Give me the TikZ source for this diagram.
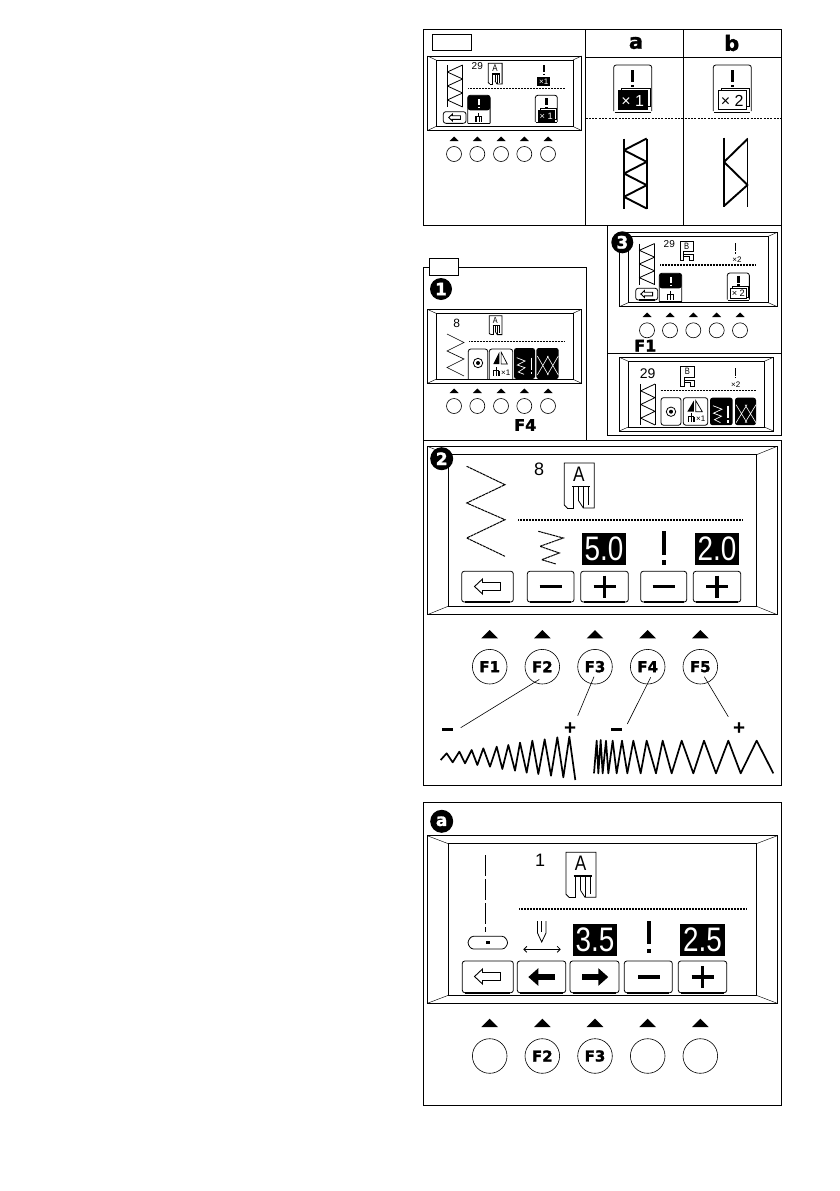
\documentclass[tikz,border=0pt]{standalone}
\usepackage{fontspec}
\setmainfont{Liberation Sans}
\newfontfamily\heavyfont[BoldFont=* Bold, BoldFeatures={FakeBold=1.6}]{DejaVu Sans}
\usetikzlibrary{arrows.meta,calc}

\newcommand{\lcdfont}[1]{\fontsize{#1}{#1}\selectfont}
\newcommand{\narrow}[1]{\scalebox{.82}[1]{#1}}

% screen: outer corners, then inset of the inner rectangle
\newcommand{\lcdframe}[6]{
    \draw[panel] (#1,#2) rectangle (#3,#4);
    \draw[panel] (#1+#5,#2+#6) rectangle (#3-#5,#4-#6);
    \draw[hair] (#1,#2) -- (#1+#5,#2+#6);
    \draw[hair] (#3,#2) -- (#3-#5,#2+#6);
    \draw[hair] (#1,#4) -- (#1+#5,#4-#6);
    \draw[hair] (#3,#4) -- (#3-#5,#4-#6);
}
% triangle and circle under a screen
\newcommand{\keyrow}[6]{
    \foreach \kx/\ktext [count=\ki] in {#2} {
        \fill (\kx-#6,#3) -- (\kx+#6,#3) -- (\kx,#3-#6) -- cycle;
        \node[keycircle, minimum size=2*#5] (#1\ki) at (\kx,#4) {\ktext};
    }
}
\newcommand{\softkey}[4]{
    \draw[softedge] (#1,#4) -- (#1,#2) -- (#3,#2) -- (#3,#4) -- cycle;
    \draw[line width=1.6pt] (#1+3,#4) -- (#3-3,#4);
}
\newcommand{\backarrow}[3]{
    \begin{scope}[shift={(#1,#2)},scale=#3]
        \draw[line width=.9pt] (-13,0) -- (-5,-7.5) -- (-5,-4) -- (13,-4) -- (13,4) -- (-5,4) -- (-5,7.5) -- cycle;
    \end{scope}
}
\newcommand{\minussign}[2]{\draw[line width=3.2pt] (#1-11,#2) -- (#1+11,#2);}
\newcommand{\plussign}[2]{\draw[line width=3.2pt] (#1-11,#2) -- (#1+11,#2) (#1,#2-11) -- (#1,#2+11);}
% stitch length mark: bar and dot
\newcommand{\stitchmark}[5][black]{
    \draw[#1, line width=#5] (#2,#3) -- (#2,#3+#4*0.72);
    \draw[#1, line width=#5] (#2,#3+#4*0.87) -- (#2,#3+#4);
}
% presser foot
\newcommand{\footA}[3]{
    \begin{scope}[shift={(#1,#2)},scale=#3,transform shape]
        \draw[line width=.8pt] (3,45) -- (0,42) -- (0,0) -- (30,0) -- (30,45) -- (19,45) -- (14.5,38);
        \draw[line width=.8pt] (3,45) -- (9.5,45) -- (9.5,23.5);
        \draw[line width=.8pt] (14.5,23.5) -- (14.5,38) (19.5,23.5) -- (19.5,45) (24.5,23.5) -- (24.5,42);
        \draw[line width=1.6pt] (7.7,23.5) -- (26,23.5);
        \node[inner sep=0, font=\lcdfont{21}] (footletter) at (14.5,11) {\narrow{A}};
    \end{scope}
}
\newcommand{\footB}[3]{
    \begin{scope}[shift={(#1,#2)},scale=#3,transform shape]
        \draw[line width=.7pt] (0,45) -- (0,0) -- (30,0) -- (30,24) -- (8,24) -- (8,45) -- cycle;
        \draw[line width=.7pt] (8,30) -- (30,30) -- (30,45) -- (22,45) -- (22,36) -- (8,36);
        \node[inner sep=0, font=\lcdfont{21}] (footletter) at (15,11) {\narrow{B}};
    \end{scope}
}
% triple stitch between two rails
\newcommand{\triplestitch}[5]{
    \draw[line width=#5, line join=round] (#1,#2) -- (#1,#2+#4) (#1+#3,#2) -- (#1+#3,#2+#4);
    \draw[line width=#5, line join=round] (#1+#3,#2) -- (#1,#2+#4/6) -- (#1+#3,#2+#4*2/6) -- (#1,#2+#4*3/6)
        -- (#1+#3,#2+#4*4/6) -- (#1,#2+#4*5/6) -- (#1+#3,#2+#4);
}
\newcommand{\needlefoot}[2]{
    \draw[line width=.9pt] (#1,#2) -- (#1,#2+3.5);
    \draw[line width=1.3pt] (#1-3,#2+3.5) -- (#1+3,#2+3.5);
    \draw[line width=1.3pt] (#1-2.8,#2+3.5) -- (#1-2.8,#2+9) (#1+2.8,#2+3.5) -- (#1+2.8,#2+9);
    \draw[line width=.7pt] (#1,#2+3.5) -- (#1,#2+9);
}
% half black key with needle
\newcommand{\stitchtab}[2]{
    \begin{scope}[shift={(#1,#2)}]
        \draw[softedge] (0,28) -- (0,0) -- (22.4,0) -- (22.4,28);
        \fill[rounded corners=2.5pt] (0,15) -- (0,0) -- (22.4,0) -- (22.4,15) -- cycle;
        \draw[white, line width=2pt] (11.2,4) -- (11.2,9.8);
        \draw[white, line width=2pt] (11.2,11.2) -- (11.2,13);
        \needlefoot{11.2}{17.5}
        \draw[line width=.5pt] (0,28) -- (22.4,28);
    \end{scope}
}
% length key, drawn at the size of the table heads
\newcommand{\lenkey}[6]{
    \begin{scope}[shift={(#1,#2)},scale=#3,transform shape]
        \draw[softedge] (0,46) -- (0,0) -- (38,0) -- (38,46);
        \draw[line width=1.2pt] (1,47.5) -- (37,47.5);
        \stitchmark{19}{5}{17}{3pt}
        \draw[line width=.7pt, fill=white] (8,23.3) rectangle (36.3,41.5);
        \draw[line width=.7pt, fill=#4] (4.7,25.7) rectangle (33.3,44.3);
        \node[inner sep=0, font=\lcdfont{16}, text=#5] (lenlabel) at (19,35.5) {× #6};
    \end{scope}
}
\begin{document}
\begin{tikzpicture}[
                x=1pt, y=-1pt,
                panel/.style={line width=.9pt},
                hair/.style={line width=.45pt},
                softedge/.style={line width=.8pt, rounded corners=2.5pt},
                keycircle/.style={circle, draw, line width=.6pt, inner sep=0pt, font=\heavyfont\bfseries\lcdfont{15}},
                badge/.style={circle, fill=black, text=white, inner sep=0pt, minimum size=22pt, font=\heavyfont\bfseries\lcdfont{17}},
                heavylabel/.style={inner sep=0pt, font=\heavyfont\bfseries\lcdfont{16}},
                lcdtext/.style={inner sep=0pt, font=\lcdfont{#1}},
                digits/.style={fill=black, text=white, inner sep=0pt, minimum width=43.4pt, minimum height=32pt, font=\lcdfont{34}},
                stitchline/.style={line width=1.7pt, line join=round},
                leader/.style={line width=.6pt},
                rule/.style={line width=#1, dash pattern=on 1pt off .5pt},
                minusbar/.style={fill=black, inner sep=0pt, minimum width=10.7pt, minimum height=3pt},
                solidarrow/.style={line width=5.5pt, -{Triangle[length=10pt 0 0,width=17pt 0 0]}}
            ]
    \path[fill=white, use as bounding box] (0,0) rectangle (839,1191);

    % table at the top
    \draw[panel] (423.5,29) rectangle (781,225);
    \draw[panel] (585.5,29) -- (585.5,225);
    \draw[panel] (683.5,29) -- (683.5,225);
    \draw[panel] (585.5,57) -- (781,57);
    \draw[line width=.7pt, dash pattern=on 2pt off 1.3pt] (585.5,118) -- (781,118);
    \node[draw, line width=.6pt, minimum width=39pt, minimum height=16pt, inner sep=0pt] (toptab) at (451.5,42) {};
    \node[inner sep=0pt, font=\heavyfont\bfseries\lcdfont{21}] (heada) at (636,43) {a};
    \node[inner sep=0pt, font=\heavyfont\bfseries\lcdfont{21}] (headb) at (731.7,43) {b};
    \lenkey{613.7}{65}{1}{black}{white}{1}
    \lenkey{713.3}{65}{1}{white}{black}{2}
    \triplestitch{624}{138.5}{22.7}{70}{1.9pt}
    \draw[line width=1.9pt, line join=round] (724,137.5) -- (724,206.5) (747.5,137.5) -- (747.5,206.5);
    \draw[line width=1.9pt, line join=round] (747.5,139) -- (724,162) -- (747.5,185) -- (724,206);

    % first screen of the table
    \lcdframe{427.5}{56}{581.5}{130.5}{8.5}{4}
    \triplestitch{447.3}{65}{15.3}{42}{.8pt}
    \node[lcdtext=10] (numa) at (477.3,66.3) {29};
    \footA{488.3}{63.3}{.46}
    \stitchmark{544}{65}{10}{1.1pt}
    \node[fill=black, text=white, inner sep=0pt, minimum width=12.7pt, minimum height=8.4pt, font=\lcdfont{8}] (timesa) at (543.7,81.5) {×1};
    \draw[rule=1.2pt] (468.3,88.7) -- (565,88.7);
    \softkey{443.3}{111.7}{466}{123.3}
    \backarrow{454.6}{117.5}{.45}
    \stitchtab{467.7}{95.3}
    \lenkey{535.3}{95.3}{.58}{black}{white}{1}
    \keyrow{topkey}{454/,477.3/,501/,524.3/,548/}{141}{154}{7.5}{4.5}

    % panel 3, two screens
    \draw[panel] (607.3,225) rectangle (781,435.7);
    \draw[panel] (607.3,353.3) -- (781,353.3);
    \lcdframe{619.3}{232.3}{777.3}{306.7}{9}{4}
    \node[badge] (three) at (622.3,242.3) {3};
    \triplestitch{639.3}{243.5}{15.3}{41}{.8pt}
    \node[lcdtext=10] (numb) at (669.3,244.3) {29};
    \footB{680}{241}{.44}
    \stitchmark{735.3}{243.3}{10.5}{1.1pt}
    \node[lcdtext=8] (timesb) at (737,259.5) {×2};
    \draw[rule=1.2pt] (660,265) -- (756,265);
    \softkey{635.7}{288.3}{657.7}{300}
    \backarrow{646.7}{294}{.45}
    \stitchtab{659.3}{273.3}
    \lenkey{727.3}{273}{.58}{white}{black}{2}
    \keyrow{thirdkey}{647/,670/,693.3/,716.7/,740/}{317}{330.3}{7.5}{4.5}
    \node[heavylabel] (fone) at (645.3,345.7) {F1};

    \lcdframe{619.3}{357.3}{773.3}{431}{9}{4}
    \node[lcdtext=14] (numc) at (647.7,373.3) {29};
    \triplestitch{640.7}{384}{14.3}{41}{.8pt}
    \footB{680.7}{366.7}{.44}
    \stitchmark{735.7}{368.3}{10}{1.3pt}
    \node[lcdtext=8] (timesc) at (735.7,384.3) {×2};
    \draw[rule=1.2pt] (660.7,390.7) -- (756,390.7);
    \begin{scope}[shift={(661,397.7)}]
        \draw[softedge] (0,27.5) -- (0,0) -- (20,0) -- (20,27.5) -- cycle;
        \draw[line width=.8pt] (10,14) circle (4.7);
        \fill (10,14) circle (2);
    \end{scope}
    \begin{scope}[shift={(683.3,397.7)}]
        \draw[softedge] (0,27.5) -- (0,0) -- (24.4,0) -- (24.4,27.5) -- cycle;
        \fill (10.5,3) -- (10.5,14) -- (4,14) -- cycle;
        \draw[line width=.7pt] (12.5,3) -- (12.5,14) -- (19,14) -- cycle;
        \needlefoot{8}{15.5}
        \node[lcdtext=8] (mirrorc) at (17.5,21) {×1};
    \end{scope}
    \begin{scope}[shift={(710,397.7)}]
        \fill[rounded corners=2.5pt] (0,27.5) -- (0,0) -- (22.7,0) -- (22.7,27.5) -- cycle;
        \draw[white, line width=.7pt] (3,8) -- (12,11.5) -- (3.5,15.5) -- (11.5,18.5) -- (4.5,22) -- (10.5,25);
        \stitchmark[white]{18}{8}{17}{1.4pt}
    \end{scope}
    \begin{scope}[shift={(735,397.7)}]
        \fill[rounded corners=2.5pt] (0,27.5) -- (0,0) -- (21,0) -- (21,27.5) -- cycle;
        \draw[white, line width=.6pt] (1,7) -- (12,25) (12,7) -- (1,25) (10,7) -- (21,25) (21,7) -- (10,25);
    \end{scope}

    % panel 1
    \draw[panel] (423.3,440.3) -- (423.3,267.3) -- (586.7,267.3) -- (586.7,440.3);
    \node[draw, fill=white, line width=.6pt, minimum width=29.4pt, minimum height=17.4pt, inner sep=0pt] (onetab) at (444,267) {};
    \node[badge] (one) at (441,289) {1};
    \lcdframe{427.3}{309.3}{581.7}{383.3}{8.7}{4}
    \node[lcdtext=12] (numd) at (456.7,323.3) {8};
    \draw[line width=.65pt] (447,334) -- (464,342.5) -- (447,351) -- (464,359) -- (447,367.5) -- (464,376);
    \footA{489.3}{315.7}{.42}
    \draw[rule=1.2pt] (469,341.7) -- (565,341.7);
    \begin{scope}[shift={(468.3,349)}]
        \draw[softedge] (0,30) -- (0,0) -- (19.4,0) -- (19.4,30);
        \draw[line width=.8pt] (9.7,14) circle (4.7);
        \fill (9.7,14) circle (2);
    \end{scope}
    \begin{scope}[shift={(489.3,349)}]
        \draw[softedge] (0,30) -- (0,0) -- (23.4,0) -- (23.4,30);
        \fill (10,3) -- (10,15) -- (4,15) -- cycle;
        \draw[line width=.7pt] (11.8,3) -- (11.8,15) -- (18,15) -- cycle;
        \needlefoot{7}{18}
        \node[lcdtext=8] (mirrord) at (16.5,23.5) {×1};
    \end{scope}
    \begin{scope}[shift={(514,348)}]
        \fill[rounded corners=2.5pt] (0,31) -- (0,0) -- (21,0) -- (21,31) -- cycle;
        \draw[white, line width=.7pt] (2.7,9.7) -- (11,13) -- (3.3,17) -- (11,19.7) -- (4.3,24) -- (10,26.3);
        \stitchmark[white]{17.7}{9.7}{16.6}{1.4pt}
    \end{scope}
    \begin{scope}[shift={(536.3,348)}]
        \fill[rounded corners=2.5pt] (0,31) -- (0,0) -- (22.4,0) -- (22.4,31) -- cycle;
        \draw[white, line width=.6pt] (1,8) -- (12,27) (12,8) -- (1,27) (11,8) -- (22,27) (22,8) -- (11,27);
    \end{scope}
    \keyrow{onekey}{454/,477.3/,501/,524.3/,548/}{393}{406}{7.5}{4.5}
    \node[heavylabel] (ffour) at (525.3,425) {F4};

    % panel 2
    \draw[panel] (423.3,440.3) rectangle (781,785);
    \lcdframe{427.3}{446.3}{777.3}{614.7}{21}{8.5}
    \node[badge, minimum size=23pt] (two) at (441.7,458.7) {2};
    \draw[line width=1pt, dash pattern=on 3pt off .6pt] (466.7,466.3) -- (505,484.7) -- (466.7,503) -- (505,519.7) -- (466.7,538) -- (505,556.3);
    \node[lcdtext=18] (nume) at (539,469.7) {8};
    \footA{564.3}{463}{1}
    \draw[rule=2pt] (518.3,519.7) -- (743.3,519.7);
    \draw[line width=1pt, dash pattern=on 2.5pt off .5pt] (538.3,531.3) -- (563.3,538) -- (540,546.3) -- (559.3,553) -- (541.7,559.7) -- (556,564);
    \node[digits] (widthval) at (604,548.9) {\narrow{5.0}};
    \stitchmark{664}{531.3}{33.4}{4pt}
    \node[digits] (lengthval) at (717,548.9) {\narrow{2.0}};
    \softkey{461.7}{571.3}{513.3}{602}
    \backarrow{487.5}{586.5}{1}
    \softkey{527.3}{571.3}{574}{602}
    \minussign{550.7}{586.5}
    \softkey{580.7}{571.3}{628.3}{602}
    \plussign{604.5}{586.5}
    \softkey{640.7}{571.3}{686.7}{602}
    \minussign{663.7}{586.5}
    \softkey{693.3}{571.3}{740.7}{602}
    \plussign{717}{586.5}
    \keyrow{f}{489.7/F1,542.3/F2,595/F3,647.7/F4,700.3/F5}{638.3}{666.7}{17.3}{8.3}

    \node[minusbar] (lowminus) at (447.3,729) {};
    \node[heavylabel] (lowplus) at (570,727.5) {+};
    \node[minusbar] (widthminus) at (616.7,729) {};
    \node[heavylabel] (widthplus) at (739,727.5) {+};
    \coordinate (endlow) at (460.7,727.7);
    \coordinate (endup) at (577.7,715.7);
    \coordinate (endminus) at (627.3,724);
    \coordinate (endplus) at (728.3,716.7);
    \draw[leader] ($(f2)+(-3,12.7)$) -- (endlow);
    \draw[leader] ($(f3)+(-1,10)$) -- (endup);
    \draw[leader] ($(f4)+(3,10.6)$) -- (endminus);
    \draw[leader] ($(f5)+(4,10)$) -- (endplus);
    \begin{scope}[shift={(420,620)},scale=1/3]
        \draw[stitchline] (62,420) -- (80,400) -- (98,427) -- (118,395) -- (135,430) -- (155,390) -- (172,435) -- (190,385)
            -- (210,440) -- (230,380) -- (247,447) -- (265,375) -- (285,452) -- (300,368) -- (320,458) -- (337,362)
            -- (355,462) -- (374,358) -- (393,467) -- (412,352) -- (430,472) -- (448,350) -- (466,480);
        \draw[stitchline] (522,460) -- (530,362) -- (535,460) -- (542,360) -- (548,460) -- (558,362) -- (565,460) -- (578,362)
            -- (590,460) -- (606,362) -- (622,460) -- (640,362) -- (662,460) -- (680,362) -- (708,460) -- (728,362)
            -- (755,460) -- (785,362) -- (820,460) -- (852,362) -- (888,460) -- (925,362) -- (962,460) -- (1010,362) -- (1060,460);
    \end{scope}

    % panel a
    \draw[panel] (423.3,802.3) rectangle (781,1105);
    \node[badge, minimum size=23pt] (letter) at (441.7,821.3) {a};
    \lcdframe{427.3}{835.7}{777.3}{1003.3}{21}{8}
    \draw[line width=1.1pt, dash pattern=on 21pt off 3pt] (485.7,855) -- (485.7,932);
    \draw[softedge] (467.3,942.7) -- (471,936.3) -- (504.5,936.3) -- (508.3,942.7) -- (504.5,949) -- (471,949) -- cycle;
    \fill (485.8,941.3) rectangle (489.8,944.3);
    \node[lcdtext=18] (numf) at (540,860) {1};
    \footA{566}{852.3}{1}
    \draw[rule=2pt] (519.3,909.3) -- (746.7,909.3);
    \draw[line width=.8pt] (537.5,921) -- (537.5,933) -- (541.7,942) -- (546,933) -- (546,921);
    \draw[line width=.8pt] (541.7,921) -- (541.7,932);
    \draw[line width=.8pt, {Straight Barb[length=3pt]}-{Straight Barb[length=3pt]}] (523.3,949.3) -- (560.7,949.3);
    \node[digits] (moveval) at (595,940) {\narrow{3.5}};
    \stitchmark{648.7}{921}{32}{4pt}
    \node[digits, minimum width=45pt] (lengthvala) at (702.5,940) {\narrow{2.5}};
    \softkey{462.3}{961}{513.3}{992.7}
    \backarrow{487.5}{976.5}{1}
    \softkey{517.3}{961}{565.7}{992.7}
    \draw[solidarrow] (555,977) -- (528.3,977);
    \softkey{570}{961}{619}{992.7}
    \draw[solidarrow] (582.3,977) -- (608.3,977);
    \softkey{624.3}{961}{672.3}{992.7}
    \minussign{649}{977}
    \softkey{678.3}{961}{726.7}{992.7}
    \plussign{702.5}{977}
    \keyrow{g}{489.7/,542.3/F2,595/F3,647.7/,700.3/}{1027}{1056}{17.3}{8.3}
\end{tikzpicture}
\end{document}
